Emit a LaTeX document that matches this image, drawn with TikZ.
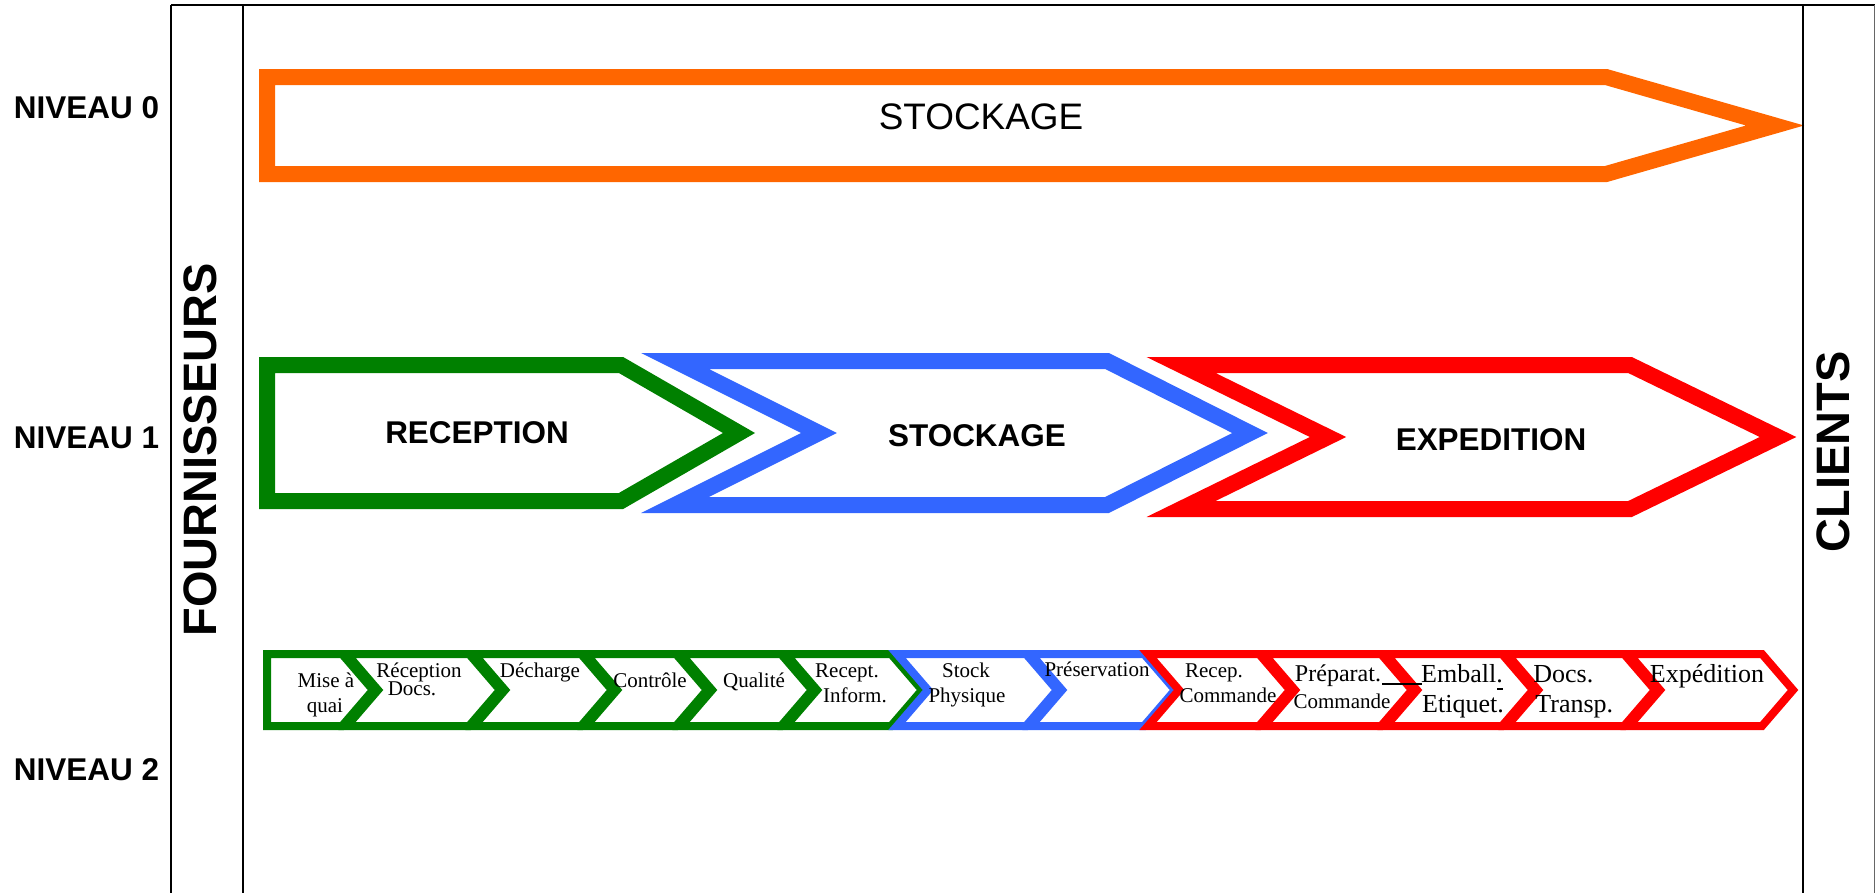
\documentclass[tikz,border=0pt]{standalone}
\usepackage{fontspec}
\setmainfont{Liberation Serif}
\newfontfamily\arialfont{Liberation Sans}
\definecolor{orng}{HTML}{FF6600}
\definecolor{grn}{HTML}{008000}
\definecolor{blu}{HTML}{3366FF}
\definecolor{rd}{HTML}{FF0000}
\begin{document}
\begin{tikzpicture}[x=0.02cm,y=-0.02cm,
  frame/.style={line width=0.04cm, draw=black},
  bigchev/.style={line width=0.32cm, line join=miter, miter limit=10},
  smallchev/.style={line width=0.16cm, line join=miter, miter limit=10},
  lvl/.style={font=\arialfont\bfseries\fontsize{17.9}{20}\selectfont, inner sep=0pt, anchor=base},
  phase/.style={font=\arialfont\bfseries\fontsize{17.9}{20}\selectfont, inner sep=0pt},
  side/.style={font=\arialfont\bfseries\fontsize{26.7}{30}\selectfont, inner sep=0pt, rotate=90},
  ta/.style={font=\fontsize{11.95}{13}\selectfont, inner sep=0pt, anchor=base},
  tb/.style={font=\fontsize{14.8}{16}\selectfont, inner sep=0pt, anchor=base},
  tc/.style={font=\fontsize{13.7}{15}\selectfont, inner sep=0pt, anchor=base},
]
\useasboundingbox (0,0) rectangle (1875,893);

% ---------- Level 0 ----------
\draw[bigchev, draw=orng] (267,77) -- (1606,77) -- (1775,125.5) -- (1606,174) -- (267,174) -- cycle;
\node[font=\arialfont\fontsize{21}{24}\selectfont, inner sep=0pt] (st0) at (981,117) {STOCKAGE};

% ---------- Level 1 ----------
\draw[bigchev, draw=grn] (267,365) -- (621,365) -- (739,433) -- (621,501) -- (267,501) -- cycle;
\draw[bigchev, draw=blu] (675,361) -- (1107,361) -- (1250,433) -- (1107,505) -- (675,505) -- (819,433) -- cycle;
\draw[bigchev, draw=rd] (1181,365) -- (1630,365) -- (1778,437) -- (1630,509) -- (1181,509) -- (1328,437) -- cycle;
\node[phase] (rec) at (477,433) {RECEPTION};
\node[phase] (sto) at (977,436) {STOCKAGE};
\node[phase] (exp) at (1491,440) {EXPEDITION};

% ---------- Level 2 ----------
\draw[smallchev, draw=grn] (267,654) -- (342,654) -- (373,690) -- (342,726) -- (267,726) -- cycle;
\foreach \n/\t/\c in {378/500/grn, 505/612/grn, 617/707/grn, 712/812/grn, 817/922/grn,
                      928/1057/blu, 1062/1175/blu,
                      1179/1290/rd, 1295/1412/rd, 1417/1533/rd, 1538/1655/rd, 1660/1793/rd}
  \draw[smallchev, draw=\c] (\n-31,654) -- (\t-31,654) -- (\t,690) -- (\t-31,726) -- (\n-31,726) -- (\n,690) -- cycle;

\node[ta] (c1a) at (326,687) {Mise à};
\node[ta] (c1b) at (325,712) {quai};
\node[ta] (c2a) at (419,677) {Réception};
\node[ta] (c2b) at (412,695) {Docs.};
\node[ta] (c3a) at (540,677) {Décharge};
\node[ta] (c4a) at (650,687) {Contrôle};
\node[ta] (c5a) at (754,687) {Qualité};
\node[ta] (c6a) at (847,677) {Recept.};
\node[ta] (c6b) at (855,702) {Inform.};
\node[ta] (c7a) at (966,677) {Stock};
\node[ta] (c7b) at (967,702) {Physique};
\node[ta] (c8a) at (1097,676) {Préservation};
\node[ta] (c9a) at (1214,677) {Recep.};
\node[ta] (c9b) at (1228,702) {Commande};
\node[tc] (c10a) at (1338,681) {Préparat.};
\node[ta] (c10b) at (1342,708) {Commande};
\node[tb] (c11a) at (1462,682) {Emball.};
\node[tb] (c11b) at (1463,712) {Etiquet.};
\node[tb, anchor=base west] (c12a) at (1533,682) {Docs.};
\node[tb, anchor=base west] (c12b) at (1535,712) {Transp.};
\node[tb] (c13a) at (1707,682) {Expédition};
\draw[line width=0.026cm] (c10a.base east) ++(1,3) -- ++(40,0);
\draw[line width=0.026cm] (c11a.base east) ++(-6,7) -- ++(6,0);

% ---------- Frame ----------
\draw[frame] (171,5) -- (1875,5);
\draw[frame] (171,5) -- (171,893);
\draw[frame] (243,5) -- (243,893);
\draw[frame] (1803,5) -- (1803,893);
\draw[line width=0.02cm, draw=black!60] (1874,5) -- (1874,893);

% ---------- Side labels ----------
\node[lvl] (n0) at (86.5,118) {NIVEAU 0};
\node[lvl] (n1) at (86.5,448) {NIVEAU 1};
\node[lvl] (n2) at (86.5,780) {NIVEAU 2};
\node[side] (four) at (200,450) {FOURNISSEURS};
\node[side] (cli) at (1833,452) {CLIENTS};
\end{tikzpicture}
\end{document}
